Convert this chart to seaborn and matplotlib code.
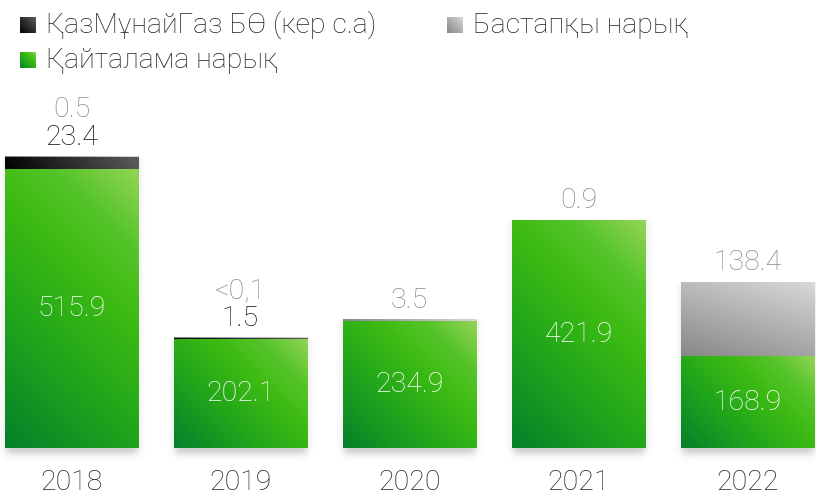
import numpy as np
import pandas as pd
import matplotlib
matplotlib.use("Agg")
import matplotlib.pyplot as plt
import seaborn as sns
from matplotlib.colors import LinearSegmentedColormap

# ---------------- data ----------------
years = ["2018", "2019", "2020", "2021", "2022"]
secondary = [515.9, 202.1, 234.9, 421.9, 168.9]      # Қайталама нарық
kmg = [23.4, 1.5, 0.0, 0.0, 0.0]                      # ҚазМұнайГаз БӨ (кер с.а)
primary = [0.5, 0.05, 3.5, 0.9, 138.4]                # Бастапқы нарық
secondary_labels = ["515.9", "202.1", "234.9", "421.9", "168.9"]
kmg_labels = ["23.4", "1.5", "", "", ""]
primary_labels = ["0.5", "<0,1", "3.5", "0.9", "138.4"]
legend_labels = ["ҚазМұнайГаз БӨ (кер с.а)", "Бастапқы нарық", "Қайталама нарық"]

df = pd.DataFrame({"year": years, "secondary": secondary, "kmg": kmg, "primary": primary})
df["lvl_kmg"] = df["secondary"] + df["kmg"]
df["lvl_total"] = df["lvl_kmg"] + df["primary"]

# ---------------- style ----------------
sns.set_theme(style="white")
plt.rcParams["font.family"] = ["Roboto", "DejaVu Sans"]
FW = "light"
FS = 20.5

FIG_W, FIG_H = 816, 495
fig = plt.figure(figsize=(FIG_W / 100, FIG_H / 100), dpi=100)
BASE_PX = 448
ax = fig.add_axes([0, (FIG_H - BASE_PX) / FIG_H, 1, BASE_PX / FIG_H])
PX_PER_X = 169.0
PX_PER_Y = 0.539

W = 0.787
sns.barplot(data=df, x="year", y="lvl_total", color="#a8a8a8", width=W, ax=ax,
            saturation=1, errorbar=None, zorder=1)
sns.barplot(data=df, x="year", y="lvl_kmg", color="#222222", width=W, ax=ax,
            saturation=1, errorbar=None, zorder=2)
sns.barplot(data=df, x="year", y="secondary", color="#3cb813", width=W, ax=ax,
            saturation=1, errorbar=None, zorder=3)
ax.set_xlim(-71.5 / PX_PER_X, (FIG_W - 71.5) / PX_PER_X)
ax.set_ylim(0, BASE_PX / PX_PER_Y)

patches = ax.patches
n = len(years)
p_total = patches[0:n]

green_cmap = LinearSegmentedColormap.from_list(
    "g", [(0, "#06802a"), (0.35, "#21a61b"), (0.62, "#3dbb12"), (0.8, "#55c42a"), (1, "#93d456")])
black_cmap = LinearSegmentedColormap.from_list("k", [(0, "#000000"), (1, "#5c5c5c")])
gray_cmap = LinearSegmentedColormap.from_list("s", [(0, "#878787"), (1, "#d8d8d8")])


def grad_img(x0, x1, y0, y1, cmap, wx=1.0, wy=1.0, z=1):
    if y1 - y0 <= 0:
        return
    wpx = (x1 - x0) * PX_PER_X
    hpx = (y1 - y0) * PX_PER_Y
    u = np.linspace(0, 1, 200)[None, :] * wpx
    v = np.linspace(0, 1, 200)[:, None] * hpx
    t = (wx * u + wy * v) / (wx * wpx + wy * hpx)
    ax.imshow(t, cmap=cmap, vmin=0, vmax=1, origin="lower", extent=[x0, x1, y0, y1],
              aspect="auto", interpolation="bilinear", zorder=z)


def sig(a):
    return 1.0 / (1.0 + np.exp(-a))


# shadows
for i in range(n):
    p = p_total[i]
    x0, x1 = p.get_x(), p.get_x() + p.get_width()
    top = p.get_height()
    pad_x = 14 / PX_PER_X
    pad_y = 16 / PX_PER_Y
    X0, X1 = x0 - pad_x, x1 + pad_x
    Y0, Y1 = -pad_y, top
    xs = np.linspace(X0, X1, 300)[None, :]
    ys = np.linspace(Y0, Y1, 300)[:, None]
    s = 2.2
    ax_ = (sig(((xs - x0) * PX_PER_X - 1) / s) - sig(((xs - x1) * PX_PER_X + 1) / s))
    ay_ = (sig((ys * PX_PER_Y + 6) / s) - sig(((ys - top) * PX_PER_Y) / s))
    alpha = np.clip(ax_ * ay_, 0, 1) * 0.32
    rgba = np.zeros((300, 300, 4))
    rgba[..., :3] = 0.35
    rgba[..., 3] = alpha
    im = ax.imshow(rgba, origin="lower", extent=[X0, X1, Y0, Y1], aspect="auto",
                   interpolation="bilinear", zorder=0.5)
    im.set_clip_on(False)

# gradient fills
for i in range(n):
    x0 = p_total[i].get_x()
    x1 = x0 + p_total[i].get_width()
    grad_img(x0, x1, df["lvl_kmg"][i], df["lvl_total"][i], gray_cmap, wx=0.3, wy=1.0, z=4)
    grad_img(x0, x1, df["secondary"][i], df["lvl_kmg"][i], black_cmap, wx=1.0, wy=0.6, z=5)
    grad_img(x0, x1, 0, df["secondary"][i], green_cmap, wx=1.0, wy=1.0, z=6)

# value labels
for i in range(n):
    ax.text(i, df["secondary"][i] / 2, secondary_labels[i], color="white", ha="center",
            va="center", fontsize=FS, fontweight=FW, zorder=10)
    off = 8.6
    if kmg_labels[i]:
        ax.annotate(kmg_labels[i], (i, df["lvl_total"][i]), xytext=(0, off),
                    textcoords="offset points", ha="center", va="baseline",
                    fontsize=FS, fontweight=FW, color="#111111", zorder=10)
        off += 20
    ax.annotate(primary_labels[i], (i, df["lvl_total"][i]), xytext=(0, off),
                textcoords="offset points", ha="center", va="baseline",
                fontsize=FS, fontweight=FW, color="#8a8a8a", zorder=10)

# axes cosmetics
ax.set_xlabel("")
ax.set_ylabel("")
ax.set_yticks([])
ax.tick_params(axis="x", length=0, pad=30, labelsize=FS, labelcolor="#222222")
for lbl in ax.get_xticklabels():
    lbl.set_va("baseline")
    lbl.set_fontweight(FW)
for sp in ax.spines.values():
    sp.set_visible(False)
ax.set_facecolor("none")


# legend (manual, top-left)
def fx(px):
    return px / FIG_W


def fy(py):
    return 1 - py / FIG_H


legend_items = [
    (20, 33, black_cmap, legend_labels[0]),
    (447, 33, gray_cmap, legend_labels[1]),
    (20, 68, green_cmap, legend_labels[2]),
]
for sx, base, cm, label in legend_items:
    sq = 16
    lax = fig.add_axes([fx(sx), fy(base), fx(sq), sq / FIG_H])
    uu = np.linspace(0, 1, 50)[None, :]
    vv = np.linspace(0, 1, 50)[:, None]
    lax.imshow((uu + vv) / 2, cmap=cm, vmin=0, vmax=1, origin="lower", aspect="auto")
    lax.axis("off")
    fig.text(fx(sx + 26), fy(base), label, ha="left", va="baseline", fontsize=FS,
             fontweight=FW, color="#222222")

fig.savefig("out.png", dpi=100)
